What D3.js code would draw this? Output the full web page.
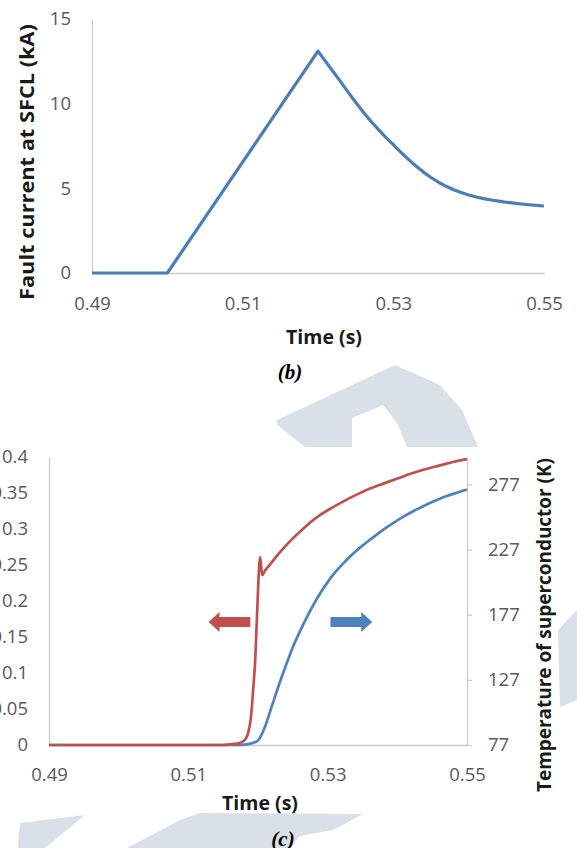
<!DOCTYPE html>
<html>
<head>
<meta charset="utf-8">
<script src="https://cdn.jsdelivr.net/npm/d3@7"></script>
<style>
  body { margin: 0; background: #fff; }
  svg { display: block; }
  text { font-family: "Open Sans", Lato, sans-serif; }
</style>
</head>
<body>
<svg id="chart" width="577" height="848"></svg>
<script>
"use strict";

/***** data *****/

// (b) fault current through the SFCL
const faultTime = [0.49, 0.50, 0.52,
    0.521, 0.522, 0.523, 0.524, 0.525, 0.526, 0.527, 0.528, 0.529, 0.530,
    0.531, 0.532, 0.533, 0.534, 0.535, 0.536, 0.537, 0.538, 0.539, 0.540,
    0.541, 0.542, 0.543, 0.544, 0.545, 0.546, 0.547, 0.548, 0.549, 0.550];
const faultCurrent = [0, 0, 13.1,
    12.5, 11.9, 11.3, 10.68, 10.08, 9.51, 8.98, 8.48, 8.01, 7.58,
    7.13, 6.71, 6.32, 5.96, 5.64, 5.36, 5.12, 4.92, 4.75, 4.61,
    4.49, 4.39, 4.31, 4.24, 4.18, 4.125, 4.075, 4.03, 3.99, 3.955];

// (c) left axis series (red)
const resTime = [0.49, 0.515, 0.516, 0.517, 0.518, 0.5185, 0.519, 0.5193, 0.5196, 0.5199,
    0.5203, 0.5206, 0.521, 0.522, 0.523, 0.524, 0.525, 0.526, 0.527, 0.528,
    0.529, 0.530, 0.532, 0.534, 0.536, 0.538, 0.540, 0.542, 0.544, 0.546,
    0.548, 0.550];
const resValue = [0, 0, 0.001, 0.002, 0.006, 0.014, 0.04, 0.076, 0.118, 0.19,
    0.261, 0.236, 0.242, 0.254, 0.266, 0.277, 0.287, 0.296, 0.305, 0.313,
    0.320, 0.326, 0.337, 0.347, 0.356, 0.363, 0.370, 0.377, 0.383, 0.388,
    0.393, 0.397];

// (c) temperature of superconductor (blue, right axis)
const tempTime = [0.49, 0.517, 0.518, 0.519,
    0.520, 0.521, 0.522, 0.523, 0.524, 0.525, 0.526, 0.527, 0.528, 0.529,
    0.530, 0.531, 0.532, 0.533, 0.534, 0.535, 0.536, 0.537, 0.538, 0.539,
    0.540, 0.541, 0.542, 0.543, 0.544, 0.545, 0.546, 0.547, 0.548, 0.549,
    0.550];
const tempValue = [77, 77, 77.3, 78.2,
    80.5, 91, 107, 123, 138, 152, 164, 175, 185, 194,
    202, 209, 215, 220.5, 225.5, 230, 234.2, 238.3, 242.2, 245.9,
    249.4, 252.6, 255.6, 258.4, 261, 263.4, 265.7, 267.8, 269.7, 271.4,
    273];

const timeTicks = [0.49, 0.51, 0.53, 0.55];
const currentTicks = [0, 5, 10, 15];
const resTicks = [0, 0.05, 0.1, 0.15, 0.2, 0.25, 0.3, 0.35, 0.4];
const tempTicks = [77, 127, 177, 227, 277];

/***** styles *****/
const colors = {
    blue: "#4a7ebb",
    blue2: "#4f81bd",
    red: "#c0504d",
    axis: "#cccccc",
    tick: "#595959",
    title: "#1a1a1a",
    mark: "#d9e0e8"
};
const tickFont = 18.5,
    titleFont = 19.5;

const svg = d3.select("#chart");

// faint background stamp shapes seen in the picture
const stamps = [
    [[277,420],[395,365],[440,385],[462,410],[478,447],[407,447],[397,423],[383,405],[352,418],[352,447],[305,447],[277,425]],
    [[577,610],[558,630],[560,707],[577,700]],
    [[20,823],[85,815],[45,848],[18,848]],
    [[127,848],[180,820],[200,813],[363,814],[333,830],[300,836],[290,848]]
];
svg.append("g").selectAll("path")
    .data(stamps)
    .enter()
    .append("path")
    .attr("d", d => d3.line()(d) + "Z")
    .attr("fill", colors.mark);

function styleAxis(g) {
    g.select(".domain").attr("stroke", colors.axis).attr("stroke-width", 1.3);
    g.selectAll(".tick line").attr("stroke", colors.axis).attr("stroke-width", 1.3);
    g.selectAll(".tick text")
        .attr("fill", colors.tick)
        .style("font-family", "'Open Sans', sans-serif")
        .style("font-size", tickFont + "px");
}

function title(x, y, txt, rotate, len) {
    let t = svg.append("text")
        .attr("transform", `translate(${x},${y})` + (rotate ? " rotate(-90)" : ""))
        .attr("text-anchor", "middle")
        .attr("dominant-baseline", "central")
        .attr("fill", colors.title)
        .style("font-size", titleFont + "px")
        .style("font-weight", "bold")
        .text(txt);
    if (len) t.attr("textLength", len).attr("lengthAdjust", "spacingAndGlyphs");
}

function caption(x, y, txt) {
    svg.append("text")
        .attr("x", x)
        .attr("y", y)
        .attr("text-anchor", "middle")
        .attr("dominant-baseline", "central")
        .style("font-family", "'Liberation Serif', 'DejaVu Serif', serif")
        .style("font-size", "21px")
        .style("font-weight", "bold")
        .style("font-style", "italic")
        .text(txt);
}

/***** chart (b) *****/
const xB = d3.scaleLinear().domain([0.49, 0.55]).range([92, 544]),
    yB = d3.scaleLinear().domain([0, 15]).range([273, 19]);

svg.append("g")
    .attr("transform", `translate(0,${yB(0)})`)
    .call(d3.axisBottom(xB).tickValues(timeTicks).tickFormat(d3.format(".2f"))
        .tickSize(0).tickPadding(24))
    .call(styleAxis);

svg.append("g")
    .attr("transform", `translate(${xB(0.49)},0)`)
    .call(d3.axisLeft(yB).tickValues(currentTicks).tickSize(0).tickPadding(21))
    .call(styleAxis);

svg.append("path")
    .datum(faultTime.map((t, i) => [t, faultCurrent[i]]))
    .attr("fill", "none")
    .attr("stroke", colors.blue)
    .attr("stroke-width", 3.2)
    .attr("stroke-linejoin", "round")
    .attr("d", d3.line().x(d => xB(d[0])).y(d => yB(d[1])));

title(26, 162, "Fault current at SFCL (kA)", true, 276);
title(324, 336, "Time (s)");
caption(290, 372, "(b)");

/***** chart (c) *****/
const xC = d3.scaleLinear().domain([0.49, 0.55]).range([49, 467]),
    yL = d3.scaleLinear().domain([0, 0.4]).range([745, 457]),
    yR = d3.scaleLinear().domain([77, 298]).range([745, 457]);

svg.append("g")
    .attr("transform", `translate(0,${yL(0)})`)
    .call(d3.axisBottom(xC).tickValues(timeTicks).tickFormat(d3.format(".2f"))
        .tickSize(0).tickPadding(23))
    .call(styleAxis);

svg.append("g")
    .attr("transform", `translate(${xC(0.49)},0)`)
    .call(d3.axisLeft(yL).tickValues(resTicks).tickFormat(d => d === 0 ? "0" : String(+d.toFixed(2)))
        .tickSize(0).tickPadding(21))
    .call(styleAxis);

svg.append("g")
    .attr("transform", `translate(${xC(0.55)},0)`)
    .call(d3.axisRight(yR).tickValues(tempTicks).tickSizeInner(5).tickSizeOuter(0).tickPadding(16))
    .call(styleAxis);

svg.append("path")
    .datum(tempTime.map((t, i) => [t, tempValue[i]]))
    .attr("fill", "none")
    .attr("stroke", colors.blue2)
    .attr("stroke-width", 2.7)
    .attr("d", d3.line().curve(d3.curveMonotoneX).x(d => xC(d[0])).y(d => yR(d[1])));

svg.append("path")
    .datum(resTime.map((t, i) => [t, resValue[i]]))
    .attr("fill", "none")
    .attr("stroke", colors.red)
    .attr("stroke-width", 2.7)
    .attr("stroke-linejoin", "round")
    .attr("d", d3.line().curve(d3.curveMonotoneX).x(d => xC(d[0])).y(d => yL(d[1])));

// block arrows showing which axis each curve belongs to
function arrow(t0, t1, v, color, dir) {
    const x0 = xC(t0), x1 = xC(t1), y = yL(v),
        head = 11, shaft = 5, half = 10;
    let pts;
    if (dir < 0) {
        pts = [[x0, y], [x0 + head, y - half], [x0 + head, y - shaft], [x1, y - shaft],
               [x1, y + shaft], [x0 + head, y + shaft], [x0 + head, y + half]];
    } else {
        pts = [[x1, y], [x1 - head, y - half], [x1 - head, y - shaft], [x0, y - shaft],
               [x0, y + shaft], [x1 - head, y + shaft], [x1 - head, y + half]];
    }
    svg.append("path")
        .attr("d", d3.line()(pts) + "Z")
        .attr("fill", color);
}
arrow(0.5129, 0.5189, 0.171, colors.red, -1);
arrow(0.5304, 0.5364, 0.171, colors.blue2, 1);

title(260, 802, "Time (s)");
title(543, 625, "Temperature of superconductor (K)", true, 334);
caption(283, 839, "(c)");
</script>
</body>
</html>
